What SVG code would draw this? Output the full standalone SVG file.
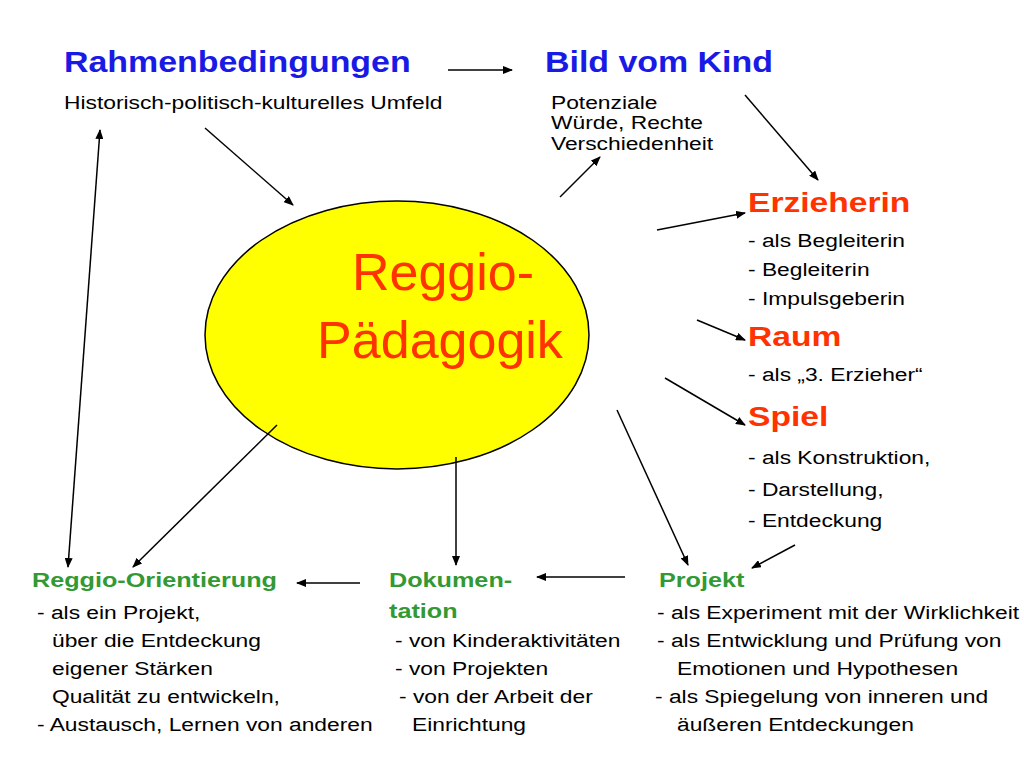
<svg xmlns="http://www.w3.org/2000/svg" width="1024" height="768" viewBox="0 0 1024 768">
<style>
text{font-family:"Liberation Sans",Arial,sans-serif;fill:#000}
.h,.r,.g,.t{transform-box:fill-box;transform-origin:0 50%}
.h{font-weight:bold;font-size:29px;fill:#1a1ae6;transform:scaleX(1.17)}
.r{font-weight:bold;font-size:28px;fill:#ff3300;transform:scaleX(1.2)}
.g{font-weight:bold;font-size:21px;fill:#339933;transform:scaleX(1.2)}
.t{font-size:19px;transform:scaleX(1.2)}
.c line{stroke:#000;stroke-width:1.5;marker-end:url(#a)}
</style>
<defs><marker id="a" markerWidth="10" markerHeight="8" refX="9" refY="4" orient="auto" markerUnits="userSpaceOnUse"><path d="M0,0 L10,4 L0,8 z" fill="#000"/></marker>
<marker id="s" markerWidth="10" markerHeight="8" refX="1" refY="4" orient="auto" markerUnits="userSpaceOnUse"><path d="M10,0 L0,4 L10,8 z" fill="#000"/></marker></defs>
<rect width="1024" height="768" fill="#fff"/>
<g id="center"><ellipse cx="397" cy="335" rx="192" ry="134" fill="#ffff00" stroke="#000" stroke-width="1.5"/>
<text x="443" y="290" text-anchor="middle" style="font-size:52px;fill:#ff3300">Reggio-</text>
<text x="440" y="358" text-anchor="middle" style="font-size:52px;fill:#ff3300">Pädagogik</text></g>
<g id="rahmen"><text class="h" x="64" y="72">Rahmenbedingungen</text><text class="t" x="64" y="109">Historisch-politisch-kulturelles Umfeld</text></g>
<g id="bild"><text class="h" x="545" y="72">Bild vom Kind</text><text class="t" x="551" y="109">Potenziale</text><text class="t" x="551" y="129">Würde, Rechte</text><text class="t" x="551" y="150">Verschiedenheit</text></g>
<g id="erz"><text class="r" x="748" y="212">Erzieherin</text><text class="t" x="748" y="247">- als Begleiterin</text><text class="t" x="748" y="276">- Begleiterin</text><text class="t" x="748" y="305">- Impulsgeberin</text></g>
<g id="raum"><text class="r" x="748" y="346">Raum</text><text class="t" x="748" y="381">- als „3. Erzieher“</text></g>
<g id="spiel"><text class="r" x="748" y="426">Spiel</text><text class="t" x="748" y="464">- als Konstruktion,</text><text class="t" x="748" y="496">- Darstellung,</text><text class="t" x="748" y="527">- Entdeckung</text></g>
<g id="projekt"><text class="g" x="659" y="587">Projekt</text><text class="t" x="657" y="619">- als Experiment mit der Wirklichkeit</text><text class="t" x="657" y="647">- als Entwicklung und Prüfung von</text><text class="t" x="677" y="675">Emotionen und Hypothesen</text><text class="t" x="655" y="703">- als Spiegelung von inneren und</text><text class="t" x="677" y="731">äußeren Entdeckungen</text></g>
<g id="doku"><text class="g" x="389" y="587">Dokumen-</text><text class="g" x="389" y="618">tation</text><text class="t" x="395" y="647">- von Kinderaktivitäten</text><text class="t" x="395" y="675">- von Projekten</text><text class="t" x="399" y="703">- von der Arbeit der</text><text class="t" x="412" y="731">Einrichtung</text></g>
<g id="reggio"><text class="g" x="32" y="587">Reggio-Orientierung</text><text class="t" x="37" y="619">- als ein Projekt,</text><text class="t" x="52" y="647">über die Entdeckung</text><text class="t" x="52" y="675">eigener Stärken</text><text class="t" x="52" y="703">Qualität zu entwickeln,</text><text class="t" x="37" y="731">- Austausch, Lernen von anderen</text></g>
<g class="c" id="connectors">
<line x1="448" y1="70" x2="512" y2="70"/>
<line x1="205" y1="128" x2="293" y2="205"/>
<line x1="560" y1="197" x2="600" y2="157"/>
<line x1="745" y1="95" x2="818" y2="180"/>
<line x1="657" y1="230" x2="745" y2="213"/>
<line x1="697" y1="320" x2="745" y2="340"/>
<line x1="665" y1="378" x2="745" y2="425"/>
<line x1="795" y1="545" x2="752" y2="568"/>
<line x1="617" y1="410" x2="688" y2="565"/>
<line x1="456" y1="457" x2="456" y2="565"/>
<line x1="625" y1="577" x2="537" y2="577"/>
<line x1="360" y1="583" x2="297" y2="583"/>
<line x1="277" y1="425" x2="133" y2="567"/>
<line x1="100" y1="130" x2="68" y2="567" marker-start="url(#s)"/>
</g>
</svg>
